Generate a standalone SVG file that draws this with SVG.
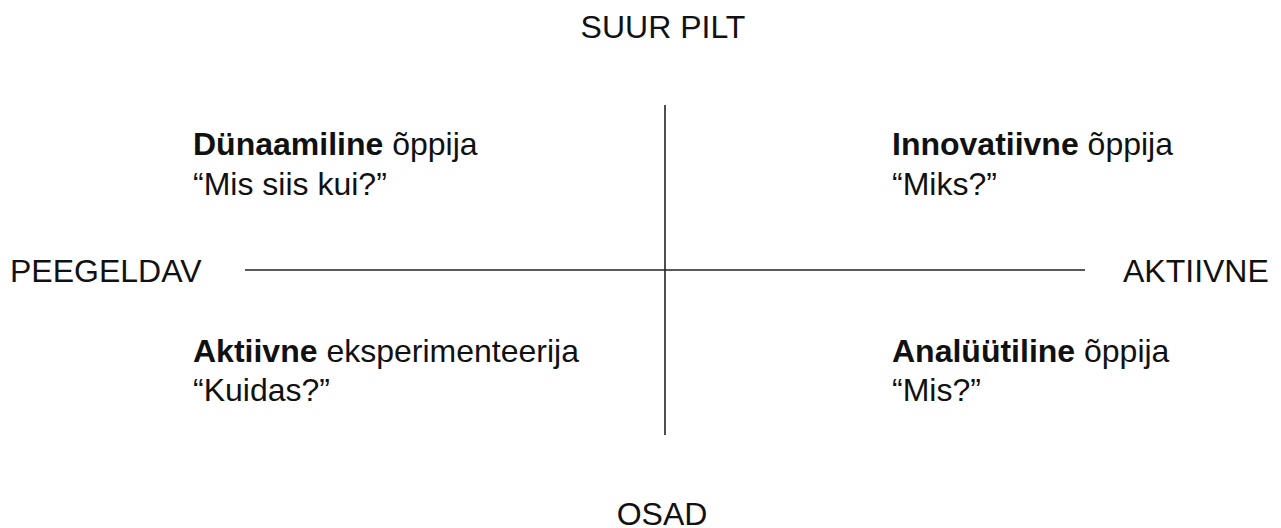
<svg xmlns="http://www.w3.org/2000/svg" width="1281" height="528" viewBox="0 0 1281 528">
<style>
.ax{font-family:"Liberation Sans",Arial,sans-serif;font-size:32px;fill:#111}
.q{font-family:"Liberation Sans",Arial,sans-serif;font-size:32px;fill:#111}
.b{font-weight:bold}
.ln{stroke:#222;stroke-width:1.6;fill:none}
</style>
<rect width="1281" height="528" fill="#fff"/>
<g id="connectors">
<line class="ln" x1="245" y1="270" x2="1085" y2="270"/>
<line class="ln" x1="665" y1="105" x2="665" y2="435"/>
</g>
<g id="top"><text class="ax" x="663" y="38" text-anchor="middle">SUUR PILT</text></g>
<g id="bottom"><text class="ax" x="662" y="525" text-anchor="middle">OSAD</text></g>
<g id="left"><text class="ax" x="10" y="282">PEEGELDAV</text></g>
<g id="right"><text class="ax" x="1123" y="282">AKTIIVNE</text></g>
<g id="q-tl"><text class="q" x="193" y="155"><tspan class="b">Dünaamiline</tspan> õppija</text><text class="q" x="193" y="195">“Mis siis kui?”</text></g>
<g id="q-tr"><text class="q" x="892" y="155"><tspan class="b">Innovatiivne</tspan> õppija</text><text class="q" x="892" y="195">“Miks?”</text></g>
<g id="q-bl"><text class="q" x="193" y="362"><tspan class="b">Aktiivne</tspan> eksperimenteerija</text><text class="q" x="193" y="401">“Kuidas?”</text></g>
<g id="q-br"><text class="q" x="892" y="362"><tspan class="b">Analüütiline</tspan> õppija</text><text class="q" x="892" y="401">“Mis?”</text></g>
</svg>
